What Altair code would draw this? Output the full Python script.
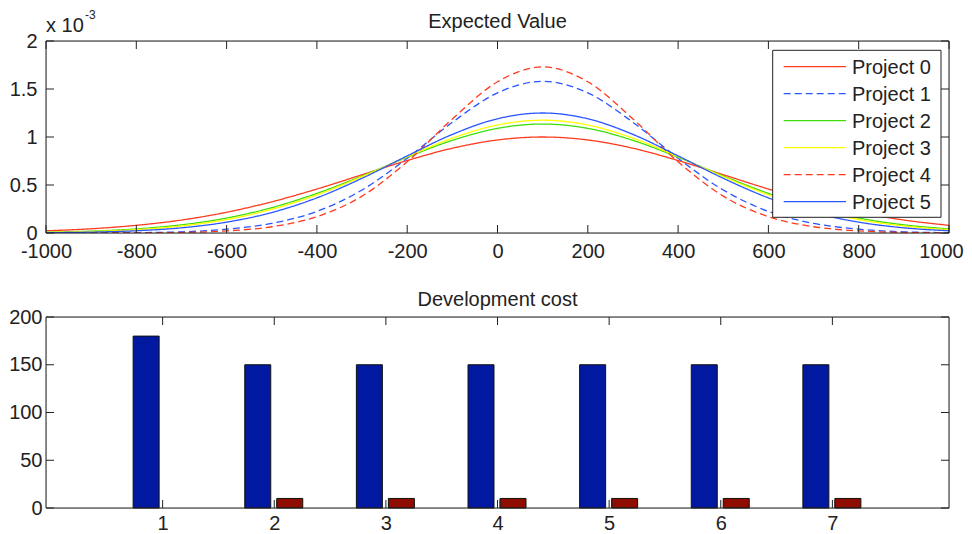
import altair as alt
import pandas as pd

# ---------------- data ----------------
x_values = [-1000, -900, -800, -700, -600, -500, -400, -300, -200, -100, 0,
            100, 200, 300, 400, 500, 600, 700, 800, 900, 1000]
series_names = ["Project 0", "Project 1", "Project 2", "Project 3", "Project 4", "Project 5"]
# expected-value densities, in units of 1e-3
project0 = [0.023, 0.044, 0.080, 0.135, 0.216, 0.325, 0.458, 0.607, 0.755, 0.883, 0.969,
            1.000, 0.969, 0.883, 0.755, 0.607, 0.458, 0.325, 0.216, 0.135, 0.080]
project1 = [0.0002, 0.0008, 0.0035, 0.012, 0.040, 0.100, 0.225, 0.448, 0.778, 1.153, 1.460,
            1.580, 1.460, 1.153, 0.778, 0.448, 0.225, 0.100, 0.040, 0.012, 0.0035]
project2 = [0.0085, 0.0198, 0.0428, 0.0851, 0.156, 0.264, 0.413, 0.594, 0.789, 0.965, 1.090,
            1.135, 1.090, 0.965, 0.789, 0.594, 0.413, 0.264, 0.156, 0.0851, 0.0428]
project3 = [0.0062, 0.0154, 0.0350, 0.0732, 0.140, 0.247, 0.397, 0.587, 0.795, 0.988, 1.125,
            1.175, 1.125, 0.988, 0.795, 0.587, 0.397, 0.247, 0.140, 0.0732, 0.0350]
project4 = [0.0000, 0.0002, 0.0012, 0.0055, 0.022, 0.065, 0.170, 0.384, 0.742, 1.188, 1.575,
            1.730, 1.575, 1.188, 0.742, 0.384, 0.170, 0.065, 0.022, 0.0055, 0.0012]
project5 = [0.0033, 0.0092, 0.0234, 0.054, 0.113, 0.213, 0.366, 0.570, 0.803, 1.027, 1.190,
            1.250, 1.190, 1.027, 0.803, 0.570, 0.366, 0.213, 0.113, 0.054, 0.0234]
series_values = [project0, project1, project2, project3, project4, project5]

top_x_ticks = [-1000, -800, -600, -400, -200, 0, 200, 400, 600, 800, 1000]
top_y_ticks = [0, 0.5, 1, 1.5, 2]

bar_groups = [1, 2, 3, 4, 5, 6, 7]
cost_blue = [180, 150, 150, 150, 150, 150, 150]
cost_red = [0, 10, 10, 10, 10, 10, 10]
bottom_y_ticks = [0, 50, 100, 150, 200]

# ---------------- style ----------------
series_colors = ["#ff3a1f", "#2a55ff", "#3fdd0a", "#ffff00", "#ff3a1f", "#2a55ff"]
series_dashes = [[1, 0], [7, 4], [1, 0], [1, 0], [7, 4], [1, 0]]
FONT = "Liberation Sans"
FS = 20
INK = "#222222"
W, H1, H2 = 903, 192, 191
TICK = 8

rows = []
for name, vals in zip(series_names, series_values):
    for xv, v in zip(x_values, vals):
        rows.append({"name": name, "x": xv, "v": v})
curves = pd.DataFrame(rows)
legend_df = pd.DataFrame({"name": series_names, "row": list(range(len(series_names)))})
bars_df = pd.DataFrame({"group": bar_groups, "blue": cost_blue, "red": cost_red})


def axis_x(values, pad=24, offset=0):
    return alt.Axis(values=values, title=None, grid=False, ticks=False, tickSize=0, domain=False,
                    labelPadding=pad, labelBaseline="alphabetic", labelFlush=False, labelOverlap=False,
                    labelFont=FONT, labelFontSize=FS, labelColor=INK,
                    labelOffset=offset,
                    labelExpr="datum.value + ''")


def axis_y(values, pad):
    return alt.Axis(values=values, title=None, grid=False, ticks=False, tickSize=0, domain=False,
                    labelPadding=pad, labelFlush=False, labelOverlap=False,
                    labelFont=FONT, labelFontSize=FS, labelColor=INK,
                    labelExpr="datum.value + ''")


def frame_and_ticks(xticks, yticks, xs, ys, H):
    one = alt.Chart(pd.DataFrame({"t": [0]}))
    dx = alt.Chart(pd.DataFrame({"t": xticks}))
    dy = alt.Chart(pd.DataFrame({"t": yticks}))
    return [
        one.mark_rect(fill=None, stroke=INK, strokeWidth=1).encode(
            x=alt.value(0), x2=alt.value(W), y=alt.value(0), y2=alt.value(H)),
        dx.mark_rule(color=INK, strokeWidth=1).encode(
            x=alt.X("t:Q", scale=xs), y=alt.value(H), y2=alt.value(H - TICK)),
        dx.mark_rule(color=INK, strokeWidth=1).encode(
            x=alt.X("t:Q", scale=xs), y=alt.value(0), y2=alt.value(TICK)),
        dy.mark_rule(color=INK, strokeWidth=1).encode(
            y=alt.Y("t:Q", scale=ys), x=alt.value(0), x2=alt.value(TICK)),
        dy.mark_rule(color=INK, strokeWidth=1).encode(
            y=alt.Y("t:Q", scale=ys), x=alt.value(W - TICK), x2=alt.value(W)),
    ]


# ---------------- top panel ----------------
xs_top = alt.Scale(domain=[-1000, 1000], nice=False, zero=False)
ys_top = alt.Scale(domain=[0, 2], nice=False, zero=False)
color_scale = alt.Scale(domain=series_names, range=series_colors)
dash_scale = alt.Scale(domain=series_names, range=series_dashes)

last_label_shift = {"condition": {"test": "datum.value == 1000", "value": -8}, "value": 0}

lines = alt.Chart(curves).mark_line(strokeWidth=1.3, interpolate="monotone", clip=True).encode(
    x=alt.X("x:Q", scale=xs_top, axis=axis_x(top_x_ticks, offset=last_label_shift)),
    y=alt.Y("v:Q", scale=ys_top, axis=axis_y(top_y_ticks, 9)),
    color=alt.Color("name:N", scale=color_scale, legend=None),
    strokeDash=alt.StrokeDash("name:N", scale=dash_scale, legend=None),
)
main_top = alt.layer(lines, *frame_and_ticks(top_x_ticks, top_y_ticks, xs_top, ys_top, H1))

leg_y = alt.Y("row:Q", scale=alt.Scale(domain=[0, 5], range=[25.6, 160.6], nice=False, zero=False), axis=None)
leg_box = alt.Chart(legend_df).transform_filter("datum.row == 0").mark_rect(
    fill="white", stroke=INK, strokeWidth=1).encode(
    x=alt.value(726.7), x2=alt.value(895), y=alt.value(9.3), y2=alt.value(176.3))
leg_rules = alt.Chart(legend_df).mark_rule(strokeWidth=1.3).encode(
    x=alt.value(737.7), x2=alt.value(800), y=leg_y,
    color=alt.Color("name:N", scale=color_scale, legend=None),
    strokeDash=alt.StrokeDash("name:N", scale=dash_scale, legend=None),
)
leg_text = alt.Chart(legend_df).mark_text(
    align="left", baseline="middle", dy=1.5, font=FONT, fontSize=FS, color=INK).encode(
    x=alt.value(806), y=leg_y, text="name:N")
legend_layer = alt.layer(leg_box, leg_rules, leg_text)

top_title = alt.Chart(pd.DataFrame({"label": ["Expected Value"]})).mark_text(
    align="center", baseline="alphabetic", font=FONT, fontSize=FS, color=INK).encode(
    x=alt.value(W / 2), y=alt.value(-13), text="label:N")
exp_base = alt.Chart(pd.DataFrame({"label": ["x 10"]})).mark_text(
    align="left", baseline="alphabetic", font=FONT, fontSize=FS, color=INK).encode(
    x=alt.value(0), y=alt.value(-8.7), text="label:N")
exp_sup = alt.Chart(pd.DataFrame({"label": ["-3"]})).mark_text(
    align="left", baseline="alphabetic", font=FONT, fontSize=12, color=INK).encode(
    x=alt.value(39), y=alt.value(-22), text="label:N")

top = alt.layer(main_top, legend_layer, top_title, exp_base, exp_sup).resolve_scale(
    y="independent").properties(width=W, height=H1)

# ---------------- bottom panel ----------------
xs_bot = alt.Scale(domain=[0, 8], nice=False, zero=False)
ys_bot = alt.Scale(domain=[0, 200], nice=False, zero=False)

blue_bars = alt.Chart(bars_df).mark_bar(size=26, xOffset=-16.5, color="#0019a0",
                                        stroke="#111111", strokeWidth=1).encode(
    x=alt.X("group:Q", scale=xs_bot, axis=axis_x(bar_groups, pad=21)),
    y=alt.Y("blue:Q", scale=ys_bot, axis=axis_y(bottom_y_ticks, 4)),
)
red_bars = alt.Chart(bars_df).transform_filter("datum.red > 0").mark_bar(
    size=26, xOffset=15.5, color="#8e0c00", stroke="#111111", strokeWidth=1).encode(
    x=alt.X("group:Q", scale=xs_bot),
    y=alt.Y("red:Q", scale=ys_bot),
)
mid_marks = alt.Chart(bars_df).transform_filter("datum.red > 0").mark_rule(
    xOffset=2.7, color=INK, strokeWidth=1).encode(
    x=alt.X("group:Q", scale=xs_bot), y=alt.value(H2), y2=alt.value(H2 - TICK))
bottom_title = alt.Chart(pd.DataFrame({"label": ["Development cost"]})).mark_text(
    align="center", baseline="alphabetic", font=FONT, fontSize=FS, color=INK).encode(
    x=alt.value(W / 2), y=alt.value(-11), text="label:N")

bottom = alt.layer(blue_bars, red_bars, mid_marks,
                   *frame_and_ticks(bar_groups, bottom_y_ticks, xs_bot, ys_bot, H2),
                   bottom_title).properties(width=W, height=H2)

chart = alt.vconcat(top, bottom, spacing=84, bounds="flush").properties(
    padding=0,
).configure_view(strokeWidth=0).configure(background="white")

chart.save("out.html", embed_options={"renderer": "svg", "actions": False})
